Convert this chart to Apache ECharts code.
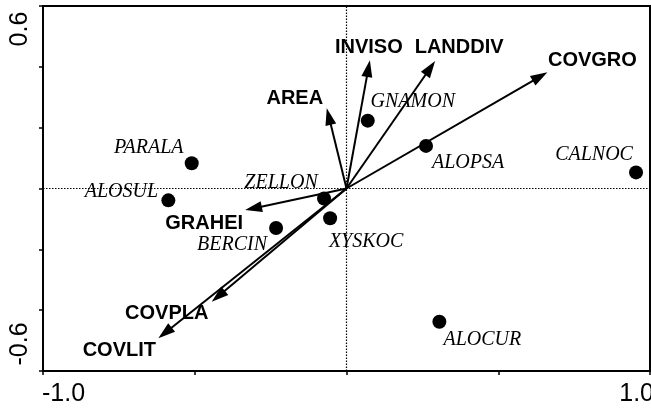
<!DOCTYPE html>
<html>
<head>
<meta charset="utf-8">
<script src="https://cdn.jsdelivr.net/npm/echarts@6/dist/echarts.min.js"></script>
<style>
html,body{margin:0;padding:0;background:#fff;}
#c{width:651px;height:410px;}
</style>
</head>
<body>
<div id="c"></div>
<script>
// ---- data ----
var speciesNames = ['PARALA','ALOSUL','ZELLON','BERCIN','XYSKOC','GNAMON','ALOPSA','CALNOC','ALOCUR'];
var speciesX = [-0.510, -0.587, -0.074, -0.232, -0.054, 0.070, 0.262, 0.954, 0.306];
var speciesY = [0.083, -0.039, -0.033, -0.130, -0.098, 0.223, 0.140, 0.053, -0.438];

var vectorNames = ['COVGRO','LANDDIV','INVISO','AREA','GRAHEI','COVPLA','COVLIT'];
var vectorX = [0.662, 0.292, 0.077, -0.065, -0.334, -0.444, -0.620];
var vectorY = [0.382, 0.419, 0.422, 0.264, -0.071, -0.372, -0.492];

var xTickLabels = ['-1.0', '1.0'];
var yTickLabels = ['-0.6', '0.6'];

// ---- styling (label offsets in pixels) ----
var speciesLabelOffset = {
  PARALA: [-43, -16], ALOSUL: [-47, -9], ZELLON: [-43, -16], BERCIN: [-44, 17],
  XYSKOC: [36, 23], GNAMON: [45, -19], ALOPSA: [42, 17], CALNOC: [-42, -18], ALOCUR: [43, 18]
};
var vectorLabelOffset = {
  COVGRO: [45, -12], LANDDIV: [24, -14], INVISO: [-1, -13], AREA: [-32, -10],
  GRAHEI: [-41, 13], COVPLA: [-45, 12], COVLIT: [-39, 12]
};

var chart = echarts.init(document.getElementById('c'), null, {renderer: 'canvas'});

var speciesData = speciesNames.map(function (n, i) {
  return {name: n, value: [speciesX[i], speciesY[i]], label: {offset: speciesLabelOffset[n]}};
});
var vectorData = vectorNames.map(function (n, i) {
  return {name: n, value: [vectorX[i], vectorY[i]]};
});

var option = {
  animation: false,
  backgroundColor: '#fff',
  grid: {left: 43, right: 1, top: 6, bottom: 39, show: true, borderColor: '#000', borderWidth: 2, backgroundColor: 'transparent'},
  xAxis: {
    type: 'value', min: -1, max: 1, interval: 0.5,
    axisLine: {show: true, onZero: false, lineStyle: {color: '#000', width: 2}},
    axisTick: {show: true, length: 4, lineStyle: {color: '#000', width: 1.5}},
    axisLabel: {show: false},
    splitLine: {show: false}
  },
  yAxis: {
    type: 'value', min: -0.6, max: 0.6, interval: 0.2,
    axisLine: {show: true, onZero: false, lineStyle: {color: '#000', width: 2}},
    axisTick: {show: true, length: 4, lineStyle: {color: '#000', width: 1.5}},
    axisLabel: {show: false},
    splitLine: {show: false}
  },
  series: [
    {
      type: 'custom',
      z: 3,
      clip: false,
      data: vectorData,
      renderItem: function (params, api) {
        var idx = params.dataIndex;
        var p0 = api.coord([0, 0]);
        var p1 = api.coord([api.value(0), api.value(1)]);
        var dx = p1[0] - p0[0], dy = p1[1] - p0[1];
        var len = Math.sqrt(dx * dx + dy * dy);
        var ux = dx / len, uy = dy / len;
        var hl = 17, hw = 5.5;
        var bx = p1[0] - ux * hl, by = p1[1] - uy * hl;
        var px = -uy, py = ux;
        var name = vectorNames[idx];
        var off = vectorLabelOffset[name];
        return {
          type: 'group',
          children: [
            {type: 'line', shape: {x1: p0[0], y1: p0[1], x2: bx + ux * 3, y2: by + uy * 3},
             style: {stroke: '#000', lineWidth: 2}},
            {type: 'polygon', shape: {points: [[p1[0], p1[1]], [bx + px * hw, by + py * hw], [bx - px * hw, by - py * hw]]},
             style: {fill: '#000'}},
            {type: 'text', x: p1[0] + off[0], y: p1[1] + off[1],
             style: {text: name, font: 'bold 20px "Liberation Sans", Arial, sans-serif', fill: '#000',
                     align: 'center', verticalAlign: 'middle'}}
          ]
        };
      }
    },
    {
      type: 'scatter',
      z: 4,
      symbol: 'circle',
      symbolSize: 14,
      itemStyle: {color: '#000', opacity: 1},
      label: {
        show: true, position: 'inside', formatter: '{b}',
        fontFamily: '"Liberation Serif", "Times New Roman", serif', fontStyle: 'italic',
        fontSize: 20, color: '#000', opacity: 1, align: 'center', verticalAlign: 'middle'
      },
      data: speciesData,
      markLine: {
        silent: true,
        symbol: 'none',
        label: {show: false},
        lineStyle: {color: '#000', width: 1.2, type: [1.5, 1.5], opacity: 1},
        data: [{xAxis: 0}, {yAxis: 0}]
      }
    }
  ]
};
chart.setOption(option);

// axis end labels placed from axis scale
var pxMin = chart.convertToPixel({gridIndex: 0}, [-1, -0.6]);
var pxMax = chart.convertToPixel({gridIndex: 0}, [1, 0.6]);
var tickFont = '25px "Liberation Sans", Arial, sans-serif';
chart.setOption({
  graphic: [
    {type: 'text', x: pxMin[0] - 1, y: pxMin[1] + 23,
     style: {text: xTickLabels[0], font: tickFont, fill: '#000', align: 'left', verticalAlign: 'middle'}},
    {type: 'text', x: pxMax[0] + 4, y: pxMin[1] + 23,
     style: {text: xTickLabels[1], font: tickFont, fill: '#000', align: 'right', verticalAlign: 'middle'}},
    {type: 'text', x: 20, y: pxMax[1] + 23, rotation: Math.PI / 2,
     style: {text: yTickLabels[1], font: tickFont, fill: '#000', align: 'center', verticalAlign: 'middle'}},
    {type: 'text', x: 20, y: pxMin[1] - 27, rotation: Math.PI / 2,
     style: {text: yTickLabels[0], font: tickFont, fill: '#000', align: 'center', verticalAlign: 'middle'}}
  ]
});
</script>
</body>
</html>
